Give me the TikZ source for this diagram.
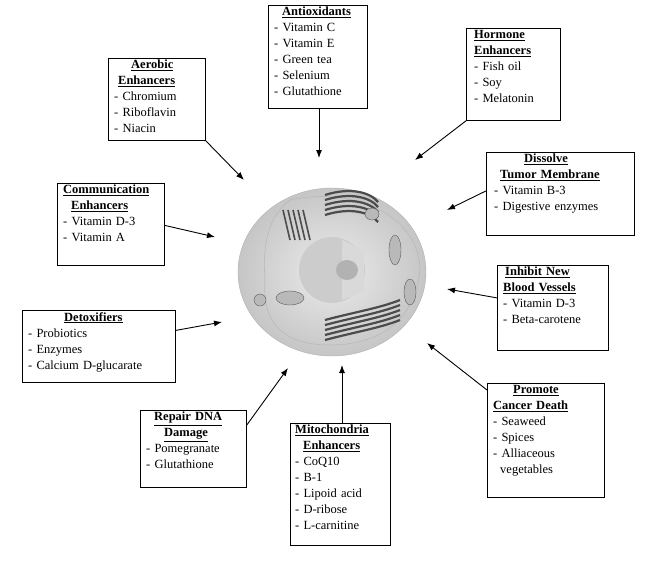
\documentclass[tikz,border=0pt]{standalone}
\usepackage{fontspec}
\setmainfont{Liberation Serif}
\newcommand\ul[1]{\underline{#1}}
\usetikzlibrary{arrows.meta}
\begin{document}
\begin{tikzpicture}[x=1pt,y=-1pt,
  box/.style={draw,line width=0.8pt,anchor=north west,inner sep=0pt},
  txt/.style={anchor=north west,inner sep=0pt,align=left,font=\fontsize{12.5}{16}\selectfont},
  arr/.style={-{Latex[length=8pt,width=6pt]},line width=0.9pt},
  org/.style={fill=gray!55,draw=gray!70!black,line width=0.4pt}]
\useasboundingbox (0,0) rectangle (650,568);
% cell
\begin{scope}
\shade[inner color=gray!15,outer color=gray!45] (332,272) ellipse (94 and 84);
\draw[gray!60] (332,272) ellipse (94 and 84);
\draw[gray!55,line width=0.6pt] (290,200) .. controls (360,185) and (420,220) .. (420,270) .. controls (415,320) and (380,345) .. (330,345) .. controls (280,345) and (262,320) .. (265,280) .. controls (262,240) and (270,215) .. (290,200);
\fill[gray!40] (332,270) circle (33);
\fill[gray!30] (342,240) -- (364,250) -- (364,292) -- (342,300) -- cycle;
\fill[gray!60] (347,270) ellipse (11 and 10);
\foreach \i in {0,...,4} {
  \draw[gray!60!black,line width=2.2pt] (325,{215-\i*5}) .. controls (350,{207-\i*5}) and (370,{212-\i*5}) .. (378,{222-\i*5});
  \draw[gray!60!black,line width=2.2pt] (325,{320+\i*5}) .. controls (355,{312+\i*5}) and (380,{308+\i*5}) .. (400,{300+\i*5});
  \draw[gray!60!black,line width=1.6pt] ({283+\i*5},210) -- ({290+\i*5},240);
}
\draw[org] (290,298) ellipse (14 and 7);
\draw[org] (395,250) ellipse (6 and 15);
\draw[org] (410,292) ellipse (6 and 13);
\draw[org] (372,214) ellipse (7 and 6);
\draw[org] (260,300) ellipse (6 and 6);
\end{scope}
\node[inner sep=0pt,minimum width=188,minimum height=168] (cell) at (332,272) {};
% boxes
\node[box,minimum width=99,minimum height=103] (anti) at (268,5) {};
\node[txt,text width=90] (antit) at (274,7) {\hspace*{8pt}\textbf{\ul{Antioxidants}}\\- Vitamin C\\- Vitamin E\\- Green tea\\- Selenium\\- Glutathione};
\node[box,minimum width=97,minimum height=82] (aero) at (108,58) {};
\node[txt,text width=90] (aerot) at (114,60) {\hspace*{17pt}\textbf{\ul{Aerobic}}\\\hspace*{4pt}\textbf{\ul{Enhancers}}\\- Chromium\\- Riboflavin\\- Niacin};
\node[box,minimum width=94,minimum height=92] (horm) at (466,28) {};
\node[txt,text width=90] (hormt) at (474,30) {\textbf{\ul{Hormone}}\\\textbf{\ul{Enhancers}}\\- Fish oil\\- Soy\\- Melatonin};
\node[box,minimum width=148,minimum height=83] (diss) at (486,152) {};
\node[txt,text width=140] (disst) at (494,154) {\hspace*{30pt}\textbf{\ul{Dissolve}}\\\hspace*{6pt}\textbf{\ul{Tumor Membrane}}\\- Vitamin B-3\\- Digestive enzymes};
\node[box,minimum width=107,minimum height=82] (comm) at (57,183) {};
\node[txt,text width=105] (commt) at (63,185) {\textbf{\ul{Communication}}\\\hspace*{8pt}\textbf{\ul{Enhancers}}\\- Vitamin D-3\\- Vitamin A};
\node[box,minimum width=111,minimum height=85] (inhi) at (497,265) {};
\node[txt,text width=105] (inhit) at (503,267) {\hspace*{2pt}\textbf{\ul{Inhibit New}}\\\textbf{\ul{Blood Vessels}}\\- Vitamin D-3\\- Beta-carotene};
\node[box,minimum width=153,minimum height=72] (deto) at (22,310) {};
\node[txt,text width=145] (detot) at (28,312) {\hspace*{36pt}\textbf{\ul{Detoxifiers}}\\- Probiotics\\- Enzymes\\- Calcium D-glucarate};
\node[box,minimum width=117,minimum height=114] (prom) at (487,383) {};
\node[txt,text width=110] (promt) at (493,385) {\hspace*{20pt}\textbf{\ul{Promote}}\\\textbf{\ul{Cancer Death}}\\- Seaweed\\- Spices\\- Alliaceous\\\hspace*{7pt}vegetables};
\node[box,minimum width=106,minimum height=77] (repa) at (140,410) {};
\node[txt,text width=100] (repat) at (146,412) {\hspace*{8pt}\textbf{\ul{Repair DNA}}\\\hspace*{18pt}\textbf{\ul{Damage}}\\- Pomegranate\\- Glutathione};
\node[box,minimum width=100,minimum height=122] (mito) at (290,423) {};
\node[txt,text width=98] (mitot) at (295,425) {\textbf{\ul{Mitochondria}}\\\hspace*{8pt}\textbf{\ul{Enhancers}}\\- CoQ10\\- B-1\\- Lipoid acid\\- D-ribose\\- L-carnitine};
% arrows
\coordinate (ta) at (319,158); \draw[arr] (anti.south -| ta) -- (ta);
\coordinate (tb) at (244,180); \draw[arr] (aero.south east) -- (tb);
\coordinate (tc) at (415,160); \draw[arr] (horm.south west) -- (tc);
\coordinate (td) at (447,210); \draw[arr] (diss.west) ++(0,-3) -- (td);
\coordinate (te) at (215,237); \draw[arr] (comm.east) ++(0,1) -- (te);
\coordinate (tf) at (447,289); \draw[arr] (inhi.west) ++(0,-10) -- (tf);
\coordinate (tg) at (222,322); \draw[arr] (deto.east) ++(0,-16) -- (tg);
\coordinate (th) at (427,343); \draw[arr] (prom.north west) ++(0,7) -- (th);
\coordinate (ti) at (288,368); \draw[arr] (repa.north east) ++(0,15) -- (ti);
\coordinate (tj) at (342,365); \draw[arr] (mito.north -| tj) -- (tj);
\end{tikzpicture}
\end{document}
